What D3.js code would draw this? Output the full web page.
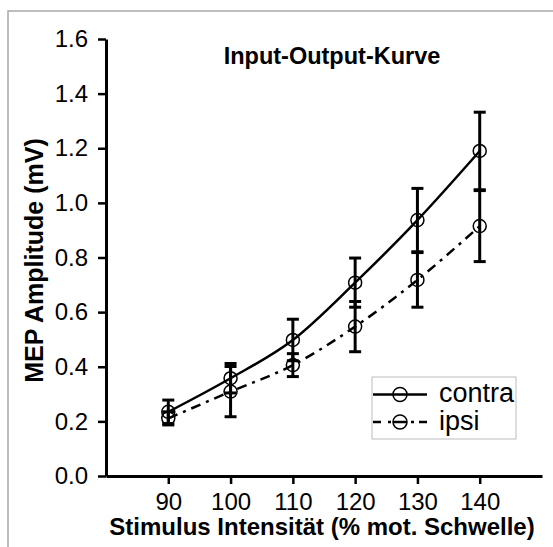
<!DOCTYPE html>
<html lang="de">
<head>
<meta charset="UTF-8" />
<title>Input-Output-Kurve</title>
<script src="https://d3js.org/d3.v7.min.js"></script>
<style>
    body { margin: 0; background: #fff; overflow: hidden; }
    svg { display: block; font-family: "Liberation Sans", Arial, sans-serif; }
</style>
</head>
<body>
<div id="chart"></div>
<script>
    // Daten
    const intensities = [90, 100, 110, 120, 130, 140];
    const contraMean = [0.235, 0.358, 0.498, 0.708, 0.937, 1.190];
    const contraErr  = [0.043, 0.054, 0.076, 0.090, 0.116, 0.142];
    const ipsiMean   = [0.211, 0.309, 0.406, 0.547, 0.718, 0.915];
    const ipsiErr    = [0.024, 0.092, 0.042, 0.092, 0.100, 0.130];
    const yTicks = [0.0, 0.2, 0.4, 0.6, 0.8, 1.0, 1.2, 1.4, 1.6];
    const xTicks = [90, 100, 110, 120, 130, 140];

    const width = 553;
    const height = 547;
    const marginLeft = 106, marginRight = 11, marginTop = 39, marginBottom = 71;

    const x = d3.scaleLinear().domain([80, 150]).range([marginLeft, width - marginRight]);
    const y = d3.scaleLinear().domain([0, 1.6]).range([height - marginBottom, marginTop]);

    const svg = d3.select("#chart").append("svg")
        .attr("width", width)
        .attr("height", height);

    // Rahmen (nur oben und links sichtbar)
    svg.append("path")
        .attr("d", `M8,${height} L8,11 L${width},11`)
        .attr("fill", "none")
        .attr("stroke", "#a8a8a8")
        .attr("stroke-width", 1.5);

    // Achsen
    const yAxis = d3.axisLeft(y).tickValues(yTicks).tickFormat(d3.format(".1f"))
        .tickSize(8).tickSizeOuter(0).tickPadding(10);
    const xAxis = d3.axisBottom(x).tickValues(xTicks).tickFormat(d3.format("d"))
        .tickSize(8).tickSizeOuter(0).tickPadding(9);

    const gy = svg.append("g")
        .attr("transform", `translate(${marginLeft},0)`)
        .call(yAxis);
    const gx = svg.append("g")
        .attr("transform", `translate(0,${height - marginBottom})`)
        .call(xAxis);

    [gx, gy].forEach(g => {
        g.select(".domain").attr("stroke", "#000").attr("stroke-width", 3);
        g.selectAll(".tick line").attr("stroke", "#000").attr("stroke-width", 2.5);
        g.selectAll(".tick text")
            .attr("fill", "#000")
            .attr("font-size", 24)
            .attr("font-family", "Liberation Sans, Arial, sans-serif");
    });

    // Achsentitel
    svg.append("text")
        .attr("transform", `translate(43,${(y(0) + y(1.6)) / 2 + 3}) rotate(-90)`)
        .attr("text-anchor", "middle")
        .attr("font-weight", "bold")
        .attr("font-size", 25)
        .text("MEP Amplitude (mV)");

    svg.append("text")
        .attr("x", 322)
        .attr("y", 535)
        .attr("text-anchor", "middle")
        .attr("font-weight", "bold")
        .attr("font-size", 24)
        .text("Stimulus Intensität (% mot. Schwelle)");

    svg.append("text")
        .attr("x", 332)
        .attr("y", 64)
        .attr("text-anchor", "middle")
        .attr("font-weight", "bold")
        .attr("font-size", 23.5)
        .text("Input-Output-Kurve");

    const series = [
        { name: "contra", mean: contraMean, err: contraErr, dash: null },
        { name: "ipsi", mean: ipsiMean, err: ipsiErr, dash: "10,6,3,6" }
    ];

    const line = d3.line()
        .x(d => x(d.x))
        .y(d => y(d.y))
        .curve(d3.curveMonotoneX);

    const capW = 6;

    series.forEach(s => {
        const pts = intensities.map((v, i) => ({ x: v, y: s.mean[i], e: s.err[i] }));

        svg.append("path")
            .datum(pts)
            .attr("fill", "none")
            .attr("stroke", "#000")
            .attr("stroke-width", 2.5)
            .attr("stroke-dasharray", s.dash)
            .attr("d", line);

        const eb = svg.append("g").selectAll("g").data(pts).join("g");
        eb.append("line")
            .attr("x1", d => x(d.x)).attr("x2", d => x(d.x))
            .attr("y1", d => y(d.y + d.e)).attr("y2", d => y(d.y - d.e))
            .attr("stroke", "#000").attr("stroke-width", 3);
        eb.append("line")
            .attr("x1", d => x(d.x) - capW).attr("x2", d => x(d.x) + capW)
            .attr("y1", d => y(d.y + d.e)).attr("y2", d => y(d.y + d.e))
            .attr("stroke", "#000").attr("stroke-width", 3);
        eb.append("line")
            .attr("x1", d => x(d.x) - capW).attr("x2", d => x(d.x) + capW)
            .attr("y1", d => y(d.y - d.e)).attr("y2", d => y(d.y - d.e))
            .attr("stroke", "#000").attr("stroke-width", 3);

        svg.append("g").selectAll("circle").data(pts).join("circle")
            .attr("cx", d => x(d.x))
            .attr("cy", d => y(d.y))
            .attr("r", 6.5)
            .attr("fill", "none")
            .attr("stroke", "#000")
            .attr("stroke-width", 1.5);
    });

    // Legende
    const legend = svg.append("g").attr("transform", "translate(372,377)");
    legend.append("rect")
        .attr("width", 144).attr("height", 62)
        .attr("fill", "#fff")
        .attr("stroke", "#bdbdbd")
        .attr("stroke-width", 1);

    series.forEach((s, i) => {
        const ly = 17.5 + i * 27.5;
        legend.append("line")
            .attr("x1", 1).attr("x2", 55)
            .attr("y1", ly).attr("y2", ly)
            .attr("stroke", "#000")
            .attr("stroke-width", 2.5)
            .attr("stroke-dasharray", s.dash ? "8,7,3,5" : null);
        legend.append("circle")
            .attr("cx", 28).attr("cy", ly)
            .attr("r", 7)
            .attr("fill", s.dash ? "#fff" : "none")
            .attr("stroke", "#000")
            .attr("stroke-width", 1.5);
        if (s.dash) {
            legend.append("line")
                .attr("x1", 21).attr("x2", 35)
                .attr("y1", ly).attr("y2", ly)
                .attr("stroke", "#000").attr("stroke-width", 2.5);
        }
        legend.append("text")
            .attr("x", 67)
            .attr("y", ly + 7.5)
            .attr("font-size", 27)
            .text(s.name);
    });
</script>
</body>
</html>
